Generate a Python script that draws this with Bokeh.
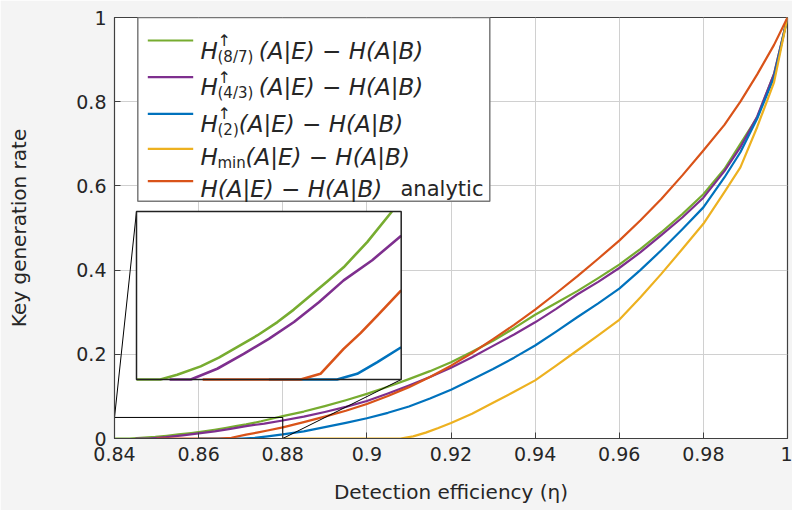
import numpy as np
from bokeh.plotting import figure
from bokeh.models import Range1d, FixedTicker
from bokeh.core.properties import value
from bokeh.embed import file_html
from bokeh.resources import INLINE

# ---------------- data ----------------
green_x = [0.84, 0.8436, 0.84615, 0.8497, 0.85244, 0.8552, 0.85824, 0.8613, 0.86377, 0.8663,
           0.86882, 0.8713, 0.87486, 0.8786, 0.88, 0.885, 0.89, 0.895,
           0.90, 0.905, 0.91, 0.915, 0.92, 0.925, 0.93, 0.935, 0.94, 0.945, 0.95, 0.955, 0.96,
           0.965, 0.97, 0.975, 0.98, 0.985, 0.9888, 0.9928, 0.9968, 1.0]
green_y = [0.0, 0.0, 0.0014, 0.0039, 0.0065, 0.0096, 0.0131, 0.0171, 0.0208, 0.025,
           0.0292, 0.0334, 0.0409, 0.05, 0.0533, 0.064, 0.077, 0.091,
           0.106, 0.123, 0.141, 0.16, 0.181, 0.206, 0.232, 0.262, 0.294, 0.322, 0.350, 0.381, 0.413,
           0.45, 0.49, 0.533, 0.58, 0.64, 0.70, 0.763, 0.866, 1.0]

purple_x = [0.845, 0.8482, 0.8522, 0.8562, 0.860, 0.8638, 0.86756, 0.8713, 0.87562, 0.88, 0.885,
            0.89, 0.895, 0.90, 0.905, 0.91,
            0.915, 0.92, 0.925, 0.93, 0.935, 0.94, 0.945, 0.95, 0.955, 0.96, 0.965, 0.97, 0.975,
            0.98, 0.985, 0.9888, 0.9928, 0.9968, 1.0]
purple_y = [0.0, 0.0, 0.0032, 0.0076, 0.0121, 0.0171, 0.023, 0.0295, 0.0355, 0.0428, 0.052,
            0.063, 0.075, 0.089, 0.107, 0.126,
            0.146, 0.168, 0.193, 0.22, 0.247, 0.276, 0.308, 0.342, 0.372, 0.405, 0.442, 0.483, 0.525,
            0.572, 0.635, 0.692, 0.765, 0.866, 1.0]

blue_x = [0.86, 0.8703, 0.87335, 0.8764, 0.88, 0.885, 0.89, 0.895, 0.90, 0.905, 0.91, 0.915, 0.92,
          0.925, 0.93, 0.935, 0.94, 0.945, 0.95, 0.955, 0.96, 0.965, 0.97, 0.975, 0.98, 0.985,
          0.9888, 0.9928, 0.9968, 1.0]
blue_y = [0.0, 0.0, 0.0017, 0.0052, 0.0096, 0.017, 0.027, 0.037, 0.048, 0.061, 0.076, 0.095, 0.116,
          0.14, 0.165, 0.192, 0.221, 0.254, 0.288, 0.321, 0.356, 0.40, 0.447, 0.497, 0.549, 0.62,
          0.68, 0.76, 0.858, 1.0]

yellow_x = [0.88, 0.908, 0.911, 0.914, 0.917, 0.92, 0.925, 0.93, 0.935, 0.94, 0.945, 0.95, 0.955,
            0.96, 0.965, 0.97, 0.975, 0.98, 0.985, 0.9888, 0.9928, 0.9968, 1.0]
yellow_y = [0.0, 0.0, 0.005, 0.014, 0.025, 0.037, 0.059, 0.085, 0.111, 0.138, 0.173, 0.209, 0.245,
            0.282, 0.335, 0.391, 0.45, 0.51, 0.585, 0.644, 0.74, 0.846, 1.0]

orange_x = [0.85, 0.8648, 0.8678, 0.8713, 0.87385, 0.8764, 0.88, 0.885, 0.89, 0.895, 0.90, 0.905,
            0.91, 0.915, 0.92, 0.925, 0.93, 0.935, 0.94, 0.945, 0.95, 0.955, 0.96, 0.965, 0.97,
            0.975, 0.98, 0.985, 0.9888, 0.9928, 0.9968, 1.0]
orange_y = [0.0, 0.0, 0.0017, 0.0091, 0.0138, 0.019, 0.0265, 0.039, 0.052, 0.066, 0.082, 0.101,
            0.122, 0.146, 0.173, 0.203, 0.236, 0.27, 0.306, 0.345, 0.385, 0.427, 0.47, 0.518, 0.569,
            0.625, 0.684, 0.745, 0.80, 0.865, 0.935, 1.0]

x_ticks = [0.84, 0.86, 0.88, 0.90, 0.92, 0.94, 0.96, 0.98, 1.00]
x_tick_labels = ["0.84", "0.86", "0.88", "0.9", "0.92", "0.94", "0.96", "0.98", "1"]
y_ticks = [0.0, 0.2, 0.4, 0.6, 0.8, 1.0]
y_tick_labels = ["0", "0.2", "0.4", "0.6", "0.8", "1"]

x_label = "Detection efficiency (\u03b7)"
y_label = "Key generation rate"

# zoomed region shown in the inset
zoom_x = (0.84, 0.88)
zoom_y = (0.0, 0.05)

GREEN, PURPLE, BLUE, YELLOW, ORANGE = "#77AC30", "#7E2F8E", "#0072BD", "#EDB120", "#D95319"

# legend entries: (main symbol, superscript, subscript, rest, trailing upright word, colour)
legend_rows = [
    ("H", "\u2191", "(8/7)", "(A|E)  \u2212  H(A|B)", "", GREEN),
    ("H", "\u2191", "(4/3)", "(A|E)  \u2212  H(A|B)", "", PURPLE),
    ("H", "\u2191", "(2)", "(A|E)  \u2212  H(A|B)", "", BLUE),
    ("H", "", "min", "(A|E)  \u2212  H(A|B)", "", YELLOW),
    ("H(A|E)  \u2212  H(A|B)", "", "", "", "analytic", ORANGE),
]

series = [(green_x, green_y, GREEN), (purple_x, purple_y, PURPLE), (blue_x, blue_y, BLUE),
          (yellow_x, yellow_y, YELLOW), (orange_x, orange_y, ORANGE)]

# ---------------- layout ----------------
W, H = 792, 510
FL, FT, FW, FH = 114, 17, 673, 421      # frame left/top/width/height in canvas px
XR = (x_ticks[0], x_ticks[-1])
YR = (y_ticks[0], y_ticks[-1])

def cx(px):
    return XR[0] + (px - FL) / FW * (XR[1] - XR[0])

def cy(py):
    return YR[0] + (FT + FH - py) / FH * (YR[1] - YR[0])

FONT = "DejaVu Sans"
TXT = "#262626"

p = figure(width=W, height=H, x_range=Range1d(*XR), y_range=Range1d(*YR),
           output_backend="svg", toolbar_location=None,
           min_border_left=FL, min_border_right=W - FL - FW, min_border_top=FT,
           min_border_bottom=H - FT - FH,
           background_fill_color="white", border_fill_color="#f4f4f4")
p.outline_line_color = "#404040"
p.outline_line_width = 1.2

for ax, ticks, labels in ((p.xaxis[0], x_ticks, x_tick_labels), (p.yaxis[0], y_ticks, y_tick_labels)):
    ax.ticker = FixedTicker(ticks=ticks)
    ax.major_label_overrides = {t: l for t, l in zip(ticks, labels)}
    ax.major_label_text_font = FONT
    ax.major_label_text_font_size = "19px"
    ax.major_label_text_color = TXT
    ax.major_label_standoff = 8
    ax.axis_label_text_font = FONT
    ax.axis_label_text_font_size = "20px"
    ax.axis_label_text_font_style = "normal"
    ax.axis_label_text_color = TXT
    ax.axis_line_color = "#404040"
    ax.major_tick_in = 6
    ax.major_tick_out = 0
    ax.major_tick_line_color = "#404040"
    ax.minor_tick_line_color = None
p.xaxis.axis_label = x_label
p.yaxis.axis_label = y_label
p.xaxis.axis_label_standoff = 16
p.yaxis.axis_label_standoff = 42

p.xgrid.ticker = FixedTicker(ticks=x_ticks)
p.ygrid.ticker = FixedTicker(ticks=y_ticks)
p.grid.grid_line_color = "#d0d0d0"
p.grid.grid_line_width = 1

# main curves
for xs, ys, c in series:
    p.line(xs, ys, line_color=c, line_width=2.2, line_join="round")

# zoom rectangle and connectors
ins_x = (cx(136), cx(400.7))
ins_y = (cy(379), cy(211))
p.quad(left=[zoom_x[0]], right=[zoom_x[1]], bottom=[zoom_y[0]], top=[zoom_y[1]],
       fill_color=None, line_color="black", line_width=1)
p.segment(x0=[zoom_x[0], zoom_x[1]], y0=[zoom_y[1], zoom_y[0]],
          x1=[ins_x[0], ins_x[1]], y1=[ins_y[1], ins_y[0]], line_color="black", line_width=1)

# inset
p.quad(left=[ins_x[0]], right=[ins_x[1]], bottom=[ins_y[0]], top=[ins_y[1]],
       fill_color="white", line_color=None)

def clip(xs, ys, x1, y1):
    ox, oy = [], []
    for i in range(len(xs)):
        x, y = xs[i], ys[i]
        if x <= x1 and y <= y1:
            ox.append(x); oy.append(y)
            continue
        if i > 0:
            xa, ya = xs[i - 1], ys[i - 1]
            t = 1.0
            if x > x1:
                t = min(t, (x1 - xa) / (x - xa))
            if y > y1:
                t = min(t, (y1 - ya) / (y - ya))
            ox.append(xa + t * (x - xa)); oy.append(ya + t * (y - ya))
        break
    return ox, oy

sub = p.subplot(x_source=Range1d(*zoom_x), y_source=Range1d(*zoom_y),
                x_target=Range1d(*ins_x), y_target=Range1d(*ins_y))
for xs, ys, c in series:
    ix, iy = clip(xs, ys, zoom_x[1], zoom_y[1])
    if len(ix) > 1:
        sub.line(ix, iy, line_color=c, line_width=2.6, line_join="round")

p.quad(left=[ins_x[0]], right=[ins_x[1]], bottom=[ins_y[0]], top=[ins_y[1]],
       fill_color=None, line_color="#222222", line_width=1.5)

# legend
p.quad(left=[cx(137.3)], right=[cx(489.3)], bottom=[cy(200.7)], top=[cy(FT)],
       fill_color="white", line_color="#7a7a7a", line_width=1.5)
row_line_y = [40, 76.7, 113.3, 148.3, 180.7]
row_base = [50, 86.7, 123.3, 156.7, 188.3]
rest_x = [258.3, 258.3, 238.3, 245, 200]
p.segment(x0=[cx(147.3)] * 5, x1=[cx(192.7)] * 5, y0=[cy(v) for v in row_line_y],
          y1=[cy(v) for v in row_line_y], line_color=[r[5] for r in legend_rows], line_width=2.2)

main_t, main_x, main_y = [], [], []
sup_t, sup_x, sup_y = [], [], []
sub_t, sub_x, sub_y = [], [], []
up_t, up_x, up_y = [], [], []
for i, (h, sp, sb, rest, word, c) in enumerate(legend_rows):
    main_t.append(h); main_x.append(cx(200)); main_y.append(cy(row_base[i]))
    if rest:
        main_t.append(rest); main_x.append(cx(rest_x[i])); main_y.append(cy(row_base[i]))
    if sp:
        sup_t.append(sp); sup_x.append(cx(217)); sup_y.append(cy(row_base[i] - 10))
    if sb:
        sub_t.append(sb); sub_x.append(cx(217)); sub_y.append(cy(row_base[i] + 6))
    if word:
        up_t.append(word); up_x.append(cx(400)); up_y.append(cy(row_base[i]))

common = dict(text_font=value(FONT), text_color=TXT, text_baseline="alphabetic", text_align="left")
p.text(x=main_x, y=main_y, text=main_t, text_font_size="23px", text_font_style="italic", **common)
p.text(x=sup_x, y=sup_y, text=sup_t, text_font_size="16px", text_font_style="normal", **common)
p.text(x=sub_x, y=sub_y, text=sub_t, text_font_size="15px", text_font_style="normal", **common)
p.text(x=up_x, y=up_y, text=up_t, text_font_size="21px", text_font_style="normal", **common)

html = file_html(p, INLINE)
html = html.replace("<body>", '<body style="background-color:#f4f4f4;">', 1)
open("out.html", "w").write(html)
